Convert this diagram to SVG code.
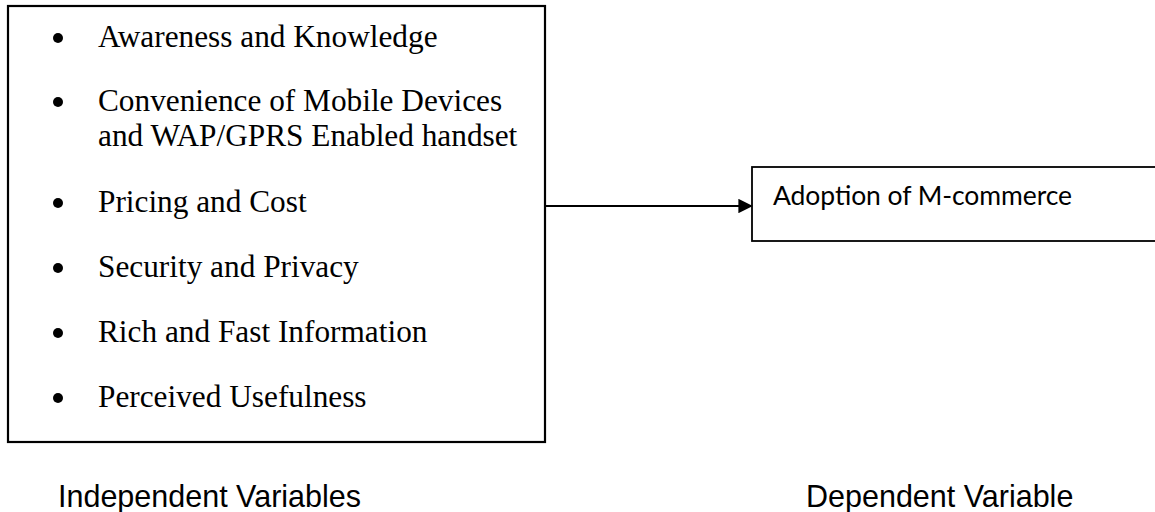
<svg xmlns="http://www.w3.org/2000/svg" width="1155" height="512" viewBox="0 0 1155 512">
<style>
.box{fill:#fff;stroke:#000;stroke-width:2.2}
.dbox{fill:#fff;stroke:#000;stroke-width:1.8}
.item{font-family:"Liberation Serif","Times New Roman",serif;font-size:31.3px;fill:#000}
.dep{font-family:Lato,"Open Sans",sans-serif;font-size:26.5px;fill:#000}
.lbl{font-family:"Liberation Sans",Arial,sans-serif;font-size:30.5px;fill:#000}
.conn{stroke:#000;stroke-width:1.8;fill:none}
</style>
<defs>
<marker id="arr" markerWidth="8" markerHeight="8" refX="7" refY="4" orient="auto" markerUnits="strokeWidth">
<path d="M0,0 L8,4 L0,8 Z" fill="#000"/>
</marker>
</defs>
<g id="independent">
<rect class="box" x="8" y="6" width="537" height="436"/>
<g fill="#000">
<circle cx="58" cy="38" r="5"/>
<circle cx="58" cy="102" r="5"/>
<circle cx="58" cy="203" r="5"/>
<circle cx="58" cy="268" r="5"/>
<circle cx="58" cy="333" r="5"/>
<circle cx="58" cy="398" r="5"/>
</g>
<text class="item" x="98" y="47">Awareness and Knowledge</text>
<text class="item" x="98" y="111">Convenience of Mobile Devices</text>
<text class="item" x="98" y="146">and WAP/GPRS Enabled handset</text>
<text class="item" x="98" y="212">Pricing and Cost</text>
<text class="item" x="98" y="277">Security and Privacy</text>
<text class="item" x="98" y="342">Rich and Fast Information</text>
<text class="item" x="98" y="407">Perceived Usefulness</text>
</g>
<g id="dependent">
<rect class="dbox" x="752" y="167" width="420" height="74"/>
<text class="dep" x="773" y="205" textLength="299" lengthAdjust="spacing">Adoption of M-commerce</text>
</g>
<g id="connectors">
<line class="conn" x1="546" y1="206" x2="751" y2="206" marker-end="url(#arr)"/>
</g>
<g id="labels">
<text class="lbl" x="58" y="507">Independent Variables</text>
<text class="lbl" x="806" y="507">Dependent Variable</text>
</g>
</svg>
